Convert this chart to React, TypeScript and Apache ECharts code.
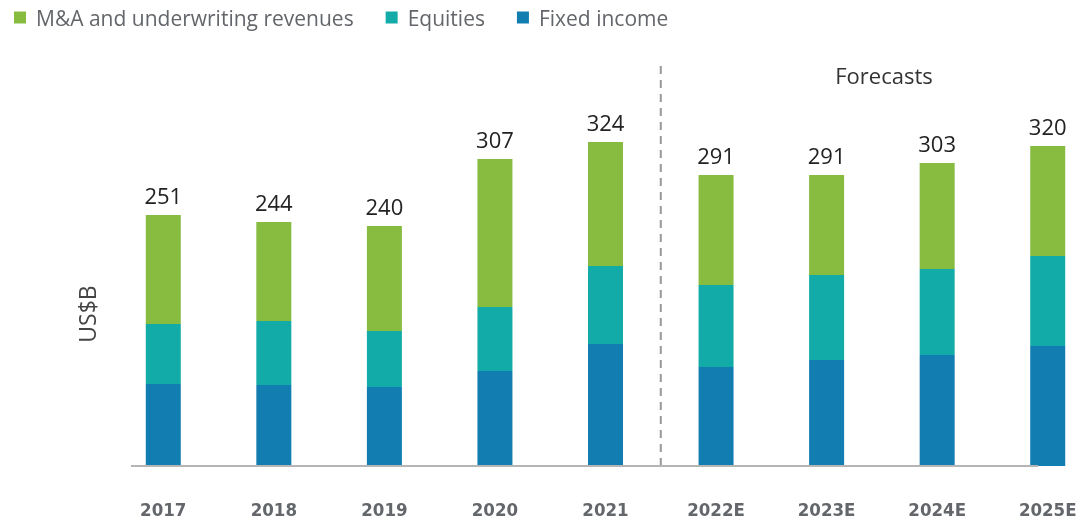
import React, { useEffect, useRef } from "react";
import * as echarts from "echarts";

const categories = ["2017", "2018", "2019", "2020", "2021", "2022E", "2023E", "2024E", "2025E"];
const fixedIncome = [82, 81, 79, 95, 122, 99, 106, 111, 120];
const equities = [60, 64, 56, 64, 78, 82, 85, 86, 90];
const maUnderwriting = [109, 99, 105, 148, 124, 110, 100, 106, 110];
const totals = [251, 244, 240, 307, 324, 291, 291, 303, 320];

const GRID_LEFT = 108;
const GRID_TOP = 116;
const GRID_WIDTH = 995;
const GRID_HEIGHT = 350;

export default function App() {
  const ref = useRef<HTMLDivElement>(null);
  useEffect(() => {
    if (!ref.current) return;
    const chart = echarts.init(ref.current, null, { renderer: "svg" });
    const band = GRID_WIDTH / categories.length;
    const dividerX = GRID_LEFT + band * 5;
    const baseY = GRID_TOP + GRID_HEIGHT;
    chart.setOption({
      animation: false,
      legend: {
        left: 9,
        top: 2,
        icon: "rect",
        itemWidth: 12,
        itemHeight: 12,
        itemGap: 32,
        textStyle: { fontFamily: "Open Sans", fontSize: 21, color: "#63666A", padding: [0, 0, 0, 5] },
        data: ["M&A and underwriting revenues", "Equities", "Fixed income"],
      },
      grid: {
        left: GRID_LEFT,
        top: GRID_TOP,
        width: GRID_WIDTH,
        height: GRID_HEIGHT,
        outerBoundsMode: "none",
        containLabel: false,
      },
      xAxis: {
        type: "category",
        data: categories,
        axisLine: { show: false },
        axisTick: { show: false },
        axisLabel: {
          fontFamily: "'DejaVu Sans Condensed', 'Liberation Sans Narrow', 'Arial Narrow', sans-serif",
          fontWeight: "bold",
          fontSize: 18.5,
          color: "#63666A",
          margin: 34,
        },
      },
      yAxis: {
        type: "value",
        min: 0,
        max: 350,
        show: false,
        splitLine: { show: false },
      },
      series: [
        {
          name: "Fixed income",
          type: "bar",
          stack: "total",
          data: fixedIncome,
          barWidth: 35,
          itemStyle: { color: "#127DB1" },
        },
        {
          name: "Equities",
          type: "bar",
          stack: "total",
          data: equities,
          barWidth: 35,
          itemStyle: { color: "#13ABA8" },
        },
        {
          name: "M&A and underwriting revenues",
          type: "bar",
          stack: "total",
          data: maUnderwriting,
          barWidth: 35,
          itemStyle: { color: "#87BC40" },
          label: {
            show: true,
            position: "top",
            distance: 9,
            fontFamily: "Open Sans",
            fontSize: 22,
            color: "#222222",
            formatter: (p: any) => String(totals[p.dataIndex]),
          },
        },
      ],
      graphic: [
        {
          type: "line",
          shape: { x1: 131, y1: baseY, x2: 1038, y2: baseY },
          style: { stroke: "#B5B5B5", lineWidth: 2 },
          z: 10,
        },
        {
          type: "line",
          shape: { x1: dividerX, y1: 66, x2: dividerX, y2: baseY },
          style: { stroke: "#999999", lineWidth: 2, lineDash: [8, 6] },
        },
        {
          type: "text",
          x: 884,
          y: 75,
          style: {
            text: "Forecasts",
            fontFamily: "Open Sans",
            fontSize: 22,
            fill: "#333333",
            align: "center",
            verticalAlign: "middle",
          },
        },
        {
          type: "text",
          x: 87,
          y: 314,
          rotation: Math.PI / 2,
          style: {
            text: "US$B",
            fontFamily: "Open Sans",
            fontSize: 23,
            fill: "#444444",
            align: "center",
            verticalAlign: "middle",
          },
        },
      ],
    });
    return () => chart.dispose();
  }, []);
  return <div ref={ref} style={{ position: "fixed", left: 0, top: 0, width: 1076, height: 521 }} />;
}
